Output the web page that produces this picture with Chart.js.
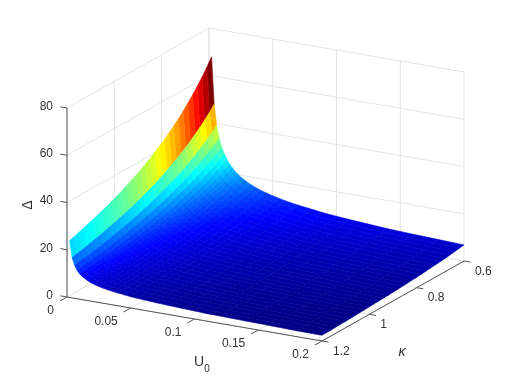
<!DOCTYPE html>
<html>
<head>
<meta charset="utf-8">
<style>html,body{margin:0;padding:0;background:#fff}canvas{display:block}</style>
<script src="https://cdn.jsdelivr.net/npm/chart.js@4/dist/chart.umd.min.js"></script>
</head>
<body>
<canvas id="c" width="512" height="384"></canvas>
<script>
const kappa = [0.60,0.62,0.64,0.66,0.68,0.70,0.72,0.74,0.76,0.78,0.80,0.82,0.84,0.86,0.88,0.90,0.92,0.94,0.96,0.98,1.00,1.02,1.04,1.06,1.08,1.10,1.12,1.14,1.16,1.18,1.20];
const u0 = [0.002,0.004,0.006,0.008,0.01,0.012,0.014,0.016,0.018,0.02,0.022,0.025,0.028,0.032,0.036,0.04,0.045,0.05,0.055,0.06,0.07,0.08,0.09,0.1,0.11,0.12,0.14,0.16,0.18,0.2];
const delta = [
[68.0,64.7,61.7,58.9,56.4,54.0,51.7,49.6,47.7,45.9,44.2,42.6,41.0,39.6,38.3,37.0,35.8,34.7,33.6,32.6,31.6,30.7,29.8,29.0,28.2,27.4,26.7,26.0,25.3,24.7,24.0],
[48.1,45.7,43.6,41.6,39.9,38.2,36.6,35.1,33.7,32.5,31.3,30.1,29.0,28.0,27.1,26.2,25.3,24.5,23.8,23.1,22.3,21.7,21.1,20.5,19.9,19.4,18.9,18.4,17.9,17.5,17.0],
[39.3,37.4,35.6,34.0,32.6,31.2,29.9,28.6,27.5,26.5,25.5,24.6,23.7,22.9,22.1,21.4,20.7,20.0,19.4,18.8,18.2,17.7,17.2,16.7,16.3,15.8,15.4,15.0,14.6,14.3,13.9],
[34.0,32.4,30.9,29.5,28.2,27.0,25.9,24.8,23.9,23.0,22.1,21.3,20.5,19.8,19.2,18.5,17.9,17.4,16.8,16.3,15.8,15.4,14.9,14.5,14.1,13.7,13.4,13.0,12.7,12.4,12.0],
[30.4,28.9,27.6,26.3,25.2,24.1,23.1,22.2,21.3,20.5,19.8,19.1,18.3,17.7,17.1,16.5,16.0,15.5,15.0,14.6,14.1,13.7,13.3,13.0,12.6,12.3,11.9,11.6,11.3,11.0,10.7],
[27.8,26.4,25.2,24.0,23.0,22.0,21.1,20.2,19.5,18.7,18.0,17.4,16.7,16.2,15.6,15.1,14.6,14.2,13.7,13.3,12.9,12.5,12.2,11.8,11.5,11.2,10.9,10.6,10.3,10.1,9.8],
[25.7,24.5,23.3,22.3,21.3,20.4,19.5,18.7,18.0,17.4,16.7,16.1,15.5,15.0,14.5,14.0,13.5,13.1,12.7,12.3,11.9,11.6,11.3,11.0,10.7,10.4,10.1,9.8,9.6,9.3,9.1],
[24.0,22.9,21.8,20.8,19.9,19.1,18.3,17.5,16.9,16.2,15.6,15.1,14.5,14.0,13.5,13.1,12.7,12.3,11.9,11.5,11.2,10.9,10.5,10.3,10.0,9.7,9.4,9.2,8.9,8.7,8.5],
[22.7,21.6,20.6,19.6,18.8,18.0,17.2,16.5,15.9,15.3,14.7,14.2,13.7,13.2,12.8,12.3,11.9,11.6,11.2,10.9,10.5,10.2,9.9,9.7,9.4,9.1,8.9,8.7,8.4,8.2,8.0],
[21.5,20.5,19.5,18.6,17.8,17.1,16.3,15.7,15.1,14.5,14.0,13.5,13.0,12.5,12.1,11.7,11.3,11.0,10.6,10.3,10.0,9.7,9.4,9.2,8.9,8.7,8.4,8.2,8.0,7.8,7.6],
[20.5,19.5,18.6,17.8,17.0,16.3,15.6,15.0,14.4,13.8,13.3,12.8,12.4,11.9,11.5,11.2,10.8,10.5,10.1,9.8,9.5,9.3,9.0,8.7,8.5,8.3,8.0,7.8,7.6,7.4,7.2],
[19.2,18.3,17.4,16.7,15.9,15.3,14.6,14.0,13.5,13.0,12.5,12.0,11.6,11.2,10.8,10.5,10.1,9.8,9.5,9.2,8.9,8.7,8.4,8.2,8.0,7.7,7.6,7.4,7.2,7.0,6.8],
[18.2,17.3,16.5,15.7,15.1,14.4,13.8,13.3,12.8,12.3,11.8,11.4,11.0,10.6,10.2,9.9,9.6,9.3,9.0,8.7,8.4,8.2,8.0,7.8,7.5,7.3,7.1,6.9,6.8,6.6,6.4],
[17.0,16.2,15.4,14.7,14.1,13.5,12.9,12.4,11.9,11.5,11.1,10.7,10.3,9.9,9.6,9.3,9.0,8.7,8.4,8.2,7.9,7.7,7.5,7.3,7.1,6.9,6.7,6.5,6.3,6.2,6.0],
[16.0,15.2,14.5,13.9,13.3,12.7,12.2,11.7,11.2,10.8,10.4,10.0,9.7,9.3,9.0,8.7,8.4,8.2,7.9,7.7,7.4,7.2,7.0,6.8,6.6,6.5,6.3,6.1,6.0,5.8,5.7],
[15.2,14.5,13.8,13.2,12.6,12.1,11.6,11.1,10.7,10.3,9.9,9.5,9.2,8.9,8.6,8.3,8.0,7.8,7.5,7.3,7.1,6.9,6.7,6.5,6.3,6.1,6.0,5.8,5.7,5.5,5.4],
[14.3,13.6,13.0,12.4,11.9,11.4,10.9,10.5,10.1,9.7,9.3,9.0,8.6,8.3,8.1,7.8,7.5,7.3,7.1,6.9,6.7,6.5,6.3,6.1,5.9,5.8,5.6,5.5,5.3,5.2,5.1],
[13.6,12.9,12.3,11.8,11.3,10.8,10.3,9.9,9.5,9.2,8.8,8.5,8.2,7.9,7.7,7.4,7.2,6.9,6.7,6.5,6.3,6.1,6.0,5.8,5.6,5.5,5.3,5.2,5.1,4.9,4.8],
[13.0,12.3,11.8,11.2,10.8,10.3,9.9,9.5,9.1,8.8,8.4,8.1,7.8,7.6,7.3,7.1,6.8,6.6,6.4,6.2,6.0,5.9,5.7,5.5,5.4,5.2,5.1,5.0,4.8,4.7,4.6],
[12.4,11.8,11.3,10.8,10.3,9.9,9.4,9.1,8.7,8.4,8.1,7.8,7.5,7.2,7.0,6.8,6.5,6.3,6.1,6.0,5.8,5.6,5.4,5.3,5.1,5.0,4.9,4.7,4.6,4.5,4.4],
[11.5,10.9,10.4,10.0,9.5,9.1,8.7,8.4,8.1,7.8,7.5,7.2,6.9,6.7,6.5,6.3,6.1,5.9,5.7,5.5,5.3,5.2,5.0,4.9,4.8,4.6,4.5,4.4,4.3,4.2,4.1],
[10.8,10.2,9.8,9.3,8.9,8.5,8.2,7.8,7.5,7.3,7.0,6.7,6.5,6.3,6.1,5.8,5.7,5.5,5.3,5.2,5.0,4.9,4.7,4.6,4.5,4.3,4.2,4.1,4.0,3.9,3.8],
[10.1,9.6,9.2,8.8,8.4,8.1,7.7,7.4,7.1,6.8,6.6,6.4,6.1,5.9,5.7,5.5,5.3,5.2,5.0,4.9,4.7,4.6,4.4,4.3,4.2,4.1,4.0,3.9,3.8,3.7,3.6],
[9.6,9.1,8.7,8.3,8.0,7.6,7.3,7.0,6.7,6.5,6.2,6.0,5.8,5.6,5.4,5.2,5.1,4.9,4.8,4.6,4.5,4.3,4.2,4.1,4.0,3.9,3.8,3.7,3.6,3.5,3.4],
[9.2,8.7,8.3,7.9,7.6,7.3,7.0,6.7,6.4,6.2,6.0,5.7,5.5,5.3,5.2,5.0,4.8,4.7,4.5,4.4,4.3,4.1,4.0,3.9,3.8,3.7,3.6,3.5,3.4,3.3,3.2],
[8.8,8.4,8.0,7.6,7.3,7.0,6.7,6.4,6.2,5.9,5.7,5.5,5.3,5.1,4.9,4.8,4.6,4.5,4.3,4.2,4.1,4.0,3.8,3.7,3.6,3.5,3.4,3.4,3.3,3.2,3.1],
[8.1,7.7,7.4,7.0,6.7,6.5,6.2,5.9,5.7,5.5,5.3,5.1,4.9,4.7,4.6,4.4,4.3,4.1,4.0,3.9,3.8,3.7,3.6,3.5,3.4,3.3,3.2,3.1,3.0,3.0,2.9],
[7.6,7.2,6.9,6.6,6.3,6.0,5.8,5.5,5.3,5.1,4.9,4.8,4.6,4.4,4.3,4.1,4.0,3.9,3.8,3.6,3.5,3.4,3.3,3.2,3.2,3.1,3.0,2.9,2.8,2.8,2.7],
[7.2,6.8,6.5,6.2,5.9,5.7,5.4,5.2,5.0,4.8,4.7,4.5,4.3,4.2,4.0,3.9,3.8,3.7,3.5,3.4,3.3,3.2,3.1,3.1,3.0,2.9,2.8,2.7,2.7,2.6,2.5],
[6.8,6.5,6.2,5.9,5.6,5.4,5.2,5.0,4.8,4.6,4.4,4.3,4.1,4.0,3.8,3.7,3.6,3.5,3.4,3.3,3.2,3.1,3.0,2.9,2.8,2.7,2.7,2.6,2.5,2.5,2.4]
];
const uTicks = [0,0.05,0.1,0.15,0.2];
const uTickLabels = ['0','0.05','0.1','0.15','0.2'];
const kappaTicks = [0.6,0.8,1,1.2];
const kappaTickLabels = ['0.6','0.8','1','1.2'];
const zTicks = [0,20,40,60,80];
const zTickLabels = ['0','20','40','60','80'];

const U_MAX = 0.2, K_MIN = 0.6, K_MAX = 1.2, Z_MAX = 80;
function project(u, k, z) {
  const a = u / U_MAX, b = (K_MAX - k) / (K_MAX - K_MIN);
  return { x: 67 + 255 * a + 142 * b, y: 297 + 44 * a - 80 * b - 189 * z / Z_MAX };
}
function jet(v, lo, hi) {
  const t = (v - lo) / (hi - lo);
  const c = f => Math.round(255 * Math.max(0, Math.min(1, f)));
  return `rgb(${c(1.5 - Math.abs(4 * t - 3))},${c(1.5 - Math.abs(4 * t - 2))},${c(1.5 - Math.abs(4 * t - 1))})`;
}
const GRID = '#e3e3e3', AXIS = '#555555';
function line(points, color, width) {
  return { type: 'scatter', showLine: true, data: points, borderColor: color, borderWidth: width, pointRadius: 0, fill: false, tension: 0 };
}
const marks = [];
zTicks.forEach(z => {
  marks.push(line([project(0, K_MAX, z), project(0, K_MIN, z), project(U_MAX, K_MIN, z)], GRID, 1));
});
uTicks.forEach(u => {
  marks.push(line([project(u, K_MAX, 0), project(u, K_MIN, 0), project(u, K_MIN, Z_MAX)], GRID, 1));
});
kappaTicks.forEach(k => {
  marks.push(line([project(U_MAX, k, 0), project(0, k, 0), project(0, k, Z_MAX)], GRID, 1));
});
marks.push(line([project(0, K_MAX, 0), project(0, K_MAX, Z_MAX)], AXIS, 1));
marks.push(line([project(0, K_MAX, 0), project(U_MAX, K_MAX, 0), project(U_MAX, K_MIN, 0)], AXIS, 1));
const UT = 0.026 * U_MAX, KT = 0.05 * (K_MAX - K_MIN);
zTicks.forEach(z => marks.push(line([project(0, K_MAX, z), project(-UT, K_MAX, z)], AXIS, 1)));
uTicks.forEach(u => marks.push(line([project(u, K_MAX, 0), project(u, K_MAX + KT, 0)], AXIS, 1)));
kappaTicks.forEach(k => marks.push(line([project(U_MAX, k, 0), project(U_MAX + UT, k, 0)], AXIS, 1)));
const flat = delta.flat();
const lo = Math.min(...flat), hi = Math.max(...flat);
for (let j = 0; j < u0.length - 1; j++) {
  for (let i = 0; i < kappa.length - 1; i++) {
    const col = jet(delta[j][i], lo, hi);
    marks.push({
      type: 'scatter', showLine: true,
      data: [
        project(u0[j], kappa[i], delta[j][i]),
        project(u0[j + 1], kappa[i], delta[j + 1][i]),
        project(u0[j + 1], kappa[i + 1], delta[j + 1][i + 1]),
        project(u0[j], kappa[i + 1], delta[j][i + 1]),
        project(u0[j], kappa[i], delta[j][i])
      ],
      borderColor: col, backgroundColor: col, borderWidth: 0.6,
      pointRadius: 0, fill: 'shape', tension: 0
    });
  }
}
const labels = {
  id: 'labels',
  afterDraw(chart) {
    const ctx = chart.ctx;
    ctx.save();
    ctx.fillStyle = '#333333';
    ctx.font = '12px "Liberation Sans"';
    ctx.textBaseline = 'middle';
    ctx.textAlign = 'right';
    zTicks.forEach((z, i) => {
      const p = project(0, K_MAX, z);
      ctx.fillText(zTickLabels[i], 53, p.y - 1.5);
    });
    uTicks.forEach((u, i) => {
      const p = project(u, K_MAX, 0);
      ctx.fillText(uTickLabels[i], p.x - 13, p.y + 14);
    });
    ctx.textAlign = 'left';
    kappaTicks.forEach((k, i) => {
      const p = project(U_MAX, k, 0);
      ctx.fillText(kappaTickLabels[i], p.x + 11, p.y + 10.5);
    });
    ctx.textAlign = 'center';
    ctx.font = '14px "Liberation Sans"';
    ctx.fillText('U', 199, 362);
    ctx.font = '10px "Liberation Sans"';
    ctx.fillText('0', 207, 369);
    ctx.font = 'italic 14px "Liberation Sans"';
    ctx.fillText('κ', 402, 352);
    ctx.font = '14px "Liberation Sans"';
    ctx.translate(28, 205);
    ctx.rotate(-Math.PI / 2);
    ctx.fillText('Δ', 0, 0);
    ctx.restore();
  }
};
new Chart(document.getElementById('c'), {
  type: 'scatter',
  data: { datasets: marks.slice().reverse() },
  plugins: [labels],
  options: {
    responsive: false,
    animation: false,
    devicePixelRatio: 1,
    layout: { padding: 0 },
    plugins: { legend: { display: false }, tooltip: { enabled: false } },
    scales: {
      x: { type: 'linear', min: 0, max: 512, display: false },
      y: { type: 'linear', min: 0, max: 384, reverse: true, display: false }
    }
  }
});
</script>
</body>
</html>
